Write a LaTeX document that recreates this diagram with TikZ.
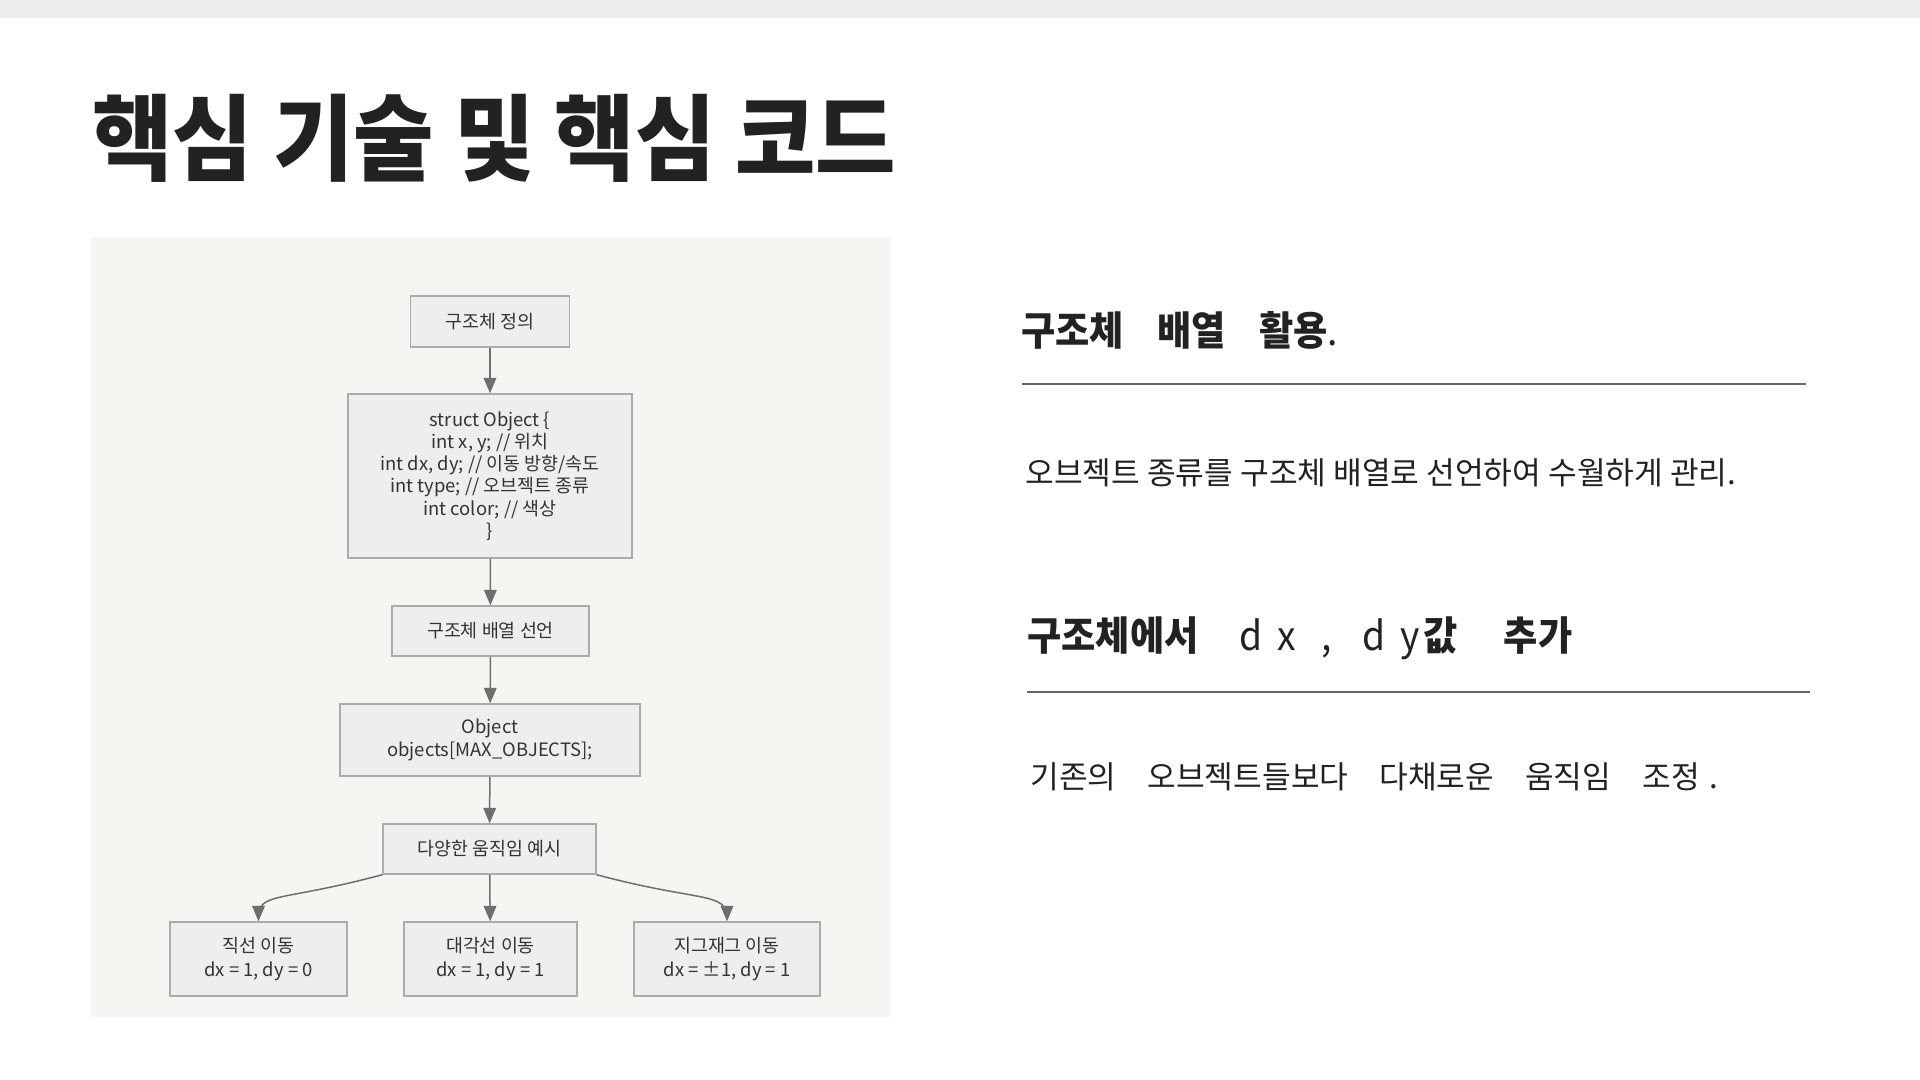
\documentclass[tikz,border=0pt]{standalone}
\usepackage{fontspec}
\usepackage{graphicx}
\setmainfont{Noto Sans CJK KR}
\newfontfamily\titlefont{Noto Sans CJK KR Black}
\usepackage{pgf, tikz}
\usetikzlibrary{arrows}

\definecolor{strip}{HTML}{EEEEEE}
\definecolor{panel}{HTML}{F6F5F2}
\definecolor{boxfill}{HTML}{EEEEEE}
\definecolor{boxline}{HTML}{ABABAB}
\definecolor{arrowgray}{HTML}{6E6E6E}
\definecolor{ink}{HTML}{222222}
\definecolor{boxink}{HTML}{333333}
\definecolor{rule}{HTML}{666666}

\begin{document}
\begin{tikzpicture} [x=0.5pt, y=-0.5pt, align=center, >=triangle 45,
  box/.style={draw=boxline, fill=boxfill, line width=0.75pt, inner sep=0pt, text=boxink,
    font=\fontsize{9.2}{11.6}\selectfont},
  flow/.style={->, draw=arrowgray, line width=0.75pt},
  heading/.style={anchor=west, inner sep=0pt, text=ink, font=\fontsize{20}{24}\selectfont},
  body/.style={anchor=west, inner sep=0pt, text=ink, font=\fontsize{15.6}{18}\selectfont},
  hrule/.style={draw=rule, line width=0.75pt}]
\useasboundingbox (0,0) rectangle (1920,1080);
\fill[white] (0,0) rectangle (1920,1080);
\fill[strip] (0,0) rectangle (1920,18);
\fill[panel] (91,237) rectangle (891,1017);

\path (92,138) node[anchor=west, inner sep=0pt, text=ink, font=\titlefont\fontsize{47}{47}\selectfont] (title)
        {\scalebox{0.93}[1]{핵심 기술 및 핵심 코드}}

      (490,321.5) node[box, minimum width=79.5pt, minimum height=25.5pt] (b1) {구조체 정의}
      (490,476) node[box, minimum width=142pt, minimum height=82pt, font=\fontsize{9.2}{11.15}\selectfont] (b2)
        {struct Object \{\\ int x, y; // 위치\\ int dx, dy; // 이동 방향/속도\\ int type; // 오브젝트 종류\\ int color; // 색상\\ \}}
      (490.5,631) node[box, minimum width=98.5pt, minimum height=25pt] (b3) {구조체 배열 선언}
      (490,740) node[box, minimum width=150pt, minimum height=36pt] (b4) {Object\\ objects[MAX\_OBJECTS];}
      (489.5,849) node[box, minimum width=106.5pt, minimum height=25pt] (b5) {다양한 움직임 예시}

      (258.5,959) node[box, minimum width=88.5pt, minimum height=37pt] (b6) {직선 이동\\ dx = 1, dy = 0}
      (490.5,959) node[box, minimum width=86.5pt, minimum height=37pt] (b7) {대각선 이동\\ dx = 1, dy = 1}
      (727,959) node[box, minimum width=93pt, minimum height=37pt] (b8) {지그재그 이동\\ dx = ±1, dy = 1};

\draw[flow] (b1) -- (b2);
\draw[flow] (b2) -- (b3);
\draw[flow] (b3) -- (b4);
\draw[flow] (b4) -- (b5);
\draw[flow] (b5) -- (b7);
\draw[flow] (b5.south west) .. controls +(-105,28) and +(0,-30) .. (b6.north);
\draw[flow] (b5.south east) .. controls +(105,28) and +(0,-30) .. (b8.north);

\path (1021,330) node[heading] (h1)
        {\scalebox{0.93}[1]{\bfseries 구조체\hspace{18pt}배열\hspace{18pt}활용\mdseries .}}
      (1025,473) node[body] (t1) {오브젝트 종류를 구조체 배열로 선언하여 수월하게 관리.}
      (1027,638) node[heading] (h2)
        {\scalebox{0.93}[1]{\bfseries 구조체에서\hspace{22pt}\mdseries d\hspace{8pt}x\hspace{14pt},\hspace{16pt}d\hspace{8pt}y\hspace{2pt}\bfseries 값\hspace{25pt}추가}}
      (1030,777) node[body] (t2)
        {기존의\hspace{15.5pt}오브젝트들보다\hspace{15.5pt}다채로운\hspace{15.5pt}움직임\hspace{15.5pt}조정\hspace{5pt}.};

\coordinate (r1a) at (1022,384);
\coordinate (r1b) at (1806,384);
\coordinate (r2a) at (1027,692);
\coordinate (r2b) at (1810,692);
\draw[hrule] (r1a) -- (r1b);
\draw[hrule] (r2a) -- (r2b);

\end{tikzpicture}
\end{document}
